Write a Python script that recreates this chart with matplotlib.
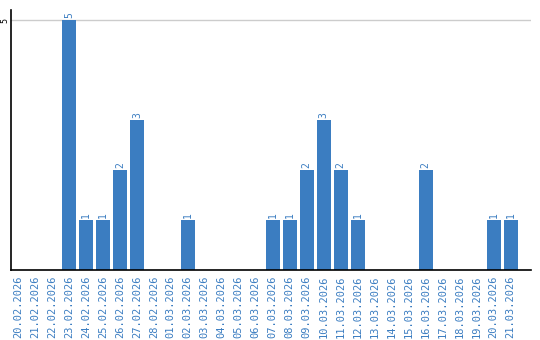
import matplotlib.pyplot as plt

dates = ["20.02.2026", "21.02.2026", "22.02.2026", "23.02.2026", "24.02.2026",
         "25.02.2026", "26.02.2026", "27.02.2026", "28.02.2026", "01.03.2026",
         "02.03.2026", "03.03.2026", "04.03.2026", "05.03.2026", "06.03.2026",
         "07.03.2026", "08.03.2026", "09.03.2026", "10.03.2026", "11.03.2026",
         "12.03.2026", "13.03.2026", "14.03.2026", "15.03.2026", "16.03.2026",
         "17.03.2026", "18.03.2026", "19.03.2026", "20.03.2026", "21.03.2026"]
counts = [0, 0, 0, 5, 1, 1, 2, 3, 0, 0,
          1, 0, 0, 0, 0, 1, 1, 2, 3, 2,
          1, 0, 0, 0, 2, 0, 0, 0, 1, 1]

blue = "#3b7dc1"

fig = plt.figure(figsize=(5.4, 3.4), dpi=100)
ax = fig.add_axes([11 / 540, 70 / 340, 520 / 540, 260 / 340])

x = list(range(len(dates)))
ax.bar(x, counts, width=0.82, color=blue, zorder=2)

for i, v in zip(x, counts):
    if v > 0:
        ax.text(i, v + 0.04, str(v), rotation=90, ha="center", va="bottom",
                color=blue, fontsize=7, family="DejaVu Sans Mono")

ax.set_xlim(-0.41, 30.2)
ax.set_ylim(0, 5.2)
ax.set_xticks(x)
ax.set_xticklabels(dates, rotation=90, color=blue, fontsize=7.5,
                   family="DejaVu Sans Mono")
ax.set_yticks([5])
ax.set_yticklabels(["5"], rotation=90, va="center", fontsize=6,
                   family="DejaVu Sans Mono")
ax.tick_params(axis="y", length=0, pad=1)
ax.tick_params(axis="x", length=0, pad=4)
ax.grid(axis="y", color="#cccccc", linewidth=1, zorder=0)

ax.spines["top"].set_visible(False)
ax.spines["right"].set_visible(False)
ax.spines["left"].set_linewidth(1.2)
ax.spines["bottom"].set_linewidth(1.2)

fig.savefig("out.png", dpi=100)
